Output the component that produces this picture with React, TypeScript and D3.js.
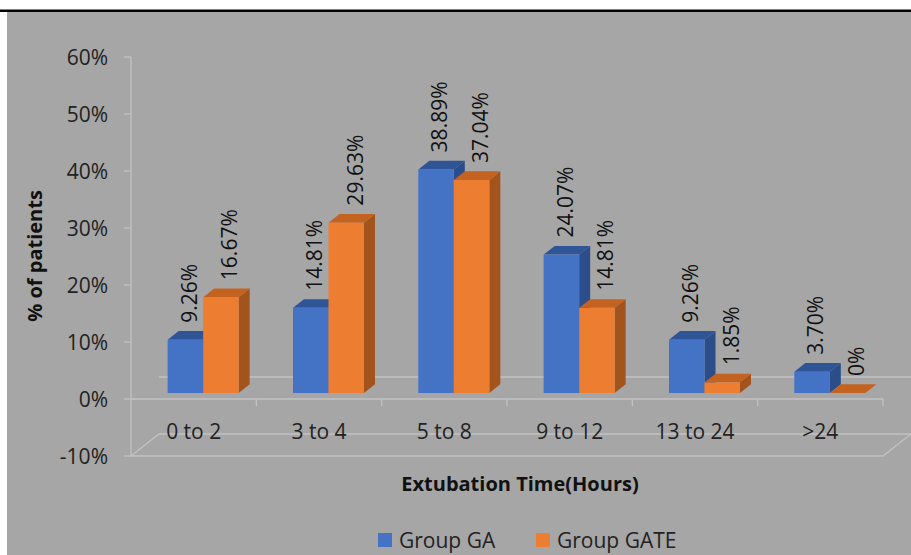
import React from "react";
import * as d3 from "d3";

// Extubation time distribution, two patient groups (percent of patients)
const categories = ["0 to 2", "3 to 4", "5 to 8", "9 to 12", "13 to 24", ">24"];
const groupGA = [9.26, 14.81, 38.89, 24.07, 9.26, 3.7];
const groupGATE = [16.67, 29.63, 37.04, 14.81, 1.85, 0];
const seriesNames = ["Group GA", "Group GATE"];
const yTicks = [-10, 0, 10, 20, 30, 40, 50, 60];

const W = 911;
const H = 555;
const FONT = "'Open Sans', sans-serif";
const LINE = "#c2c2c2";

// face colours: front, top, side
const palettes = [
  { front: "#4472c4", top: "#2f5597", side: "#2b4d8a" },
  { front: "#ed7d31", top: "#c4621f", side: "#a3541c" },
];

// depth vectors of the pseudo-3D plot box and of each column
const wallDepth = { dx: 28, dy: -22 };
const barDepth = { dx: 11, dy: -8.7 };

const fmt = (v: number) => (v === 0 ? "0%" : `${v.toFixed(2)}%`);

export default function App() {
  const x = d3.scaleBand<string>().domain(categories).range([131, 883]);
  const yAxis = d3.scaleLinear().domain([-10, 60]).range([456, 57]);
  const yBar = d3.scaleLinear().domain([0, 60]).range([393, 48]);

  const barW = 35.5;
  const groupShift = 9.5;
  const series = [groupGA, groupGATE];

  const left = x.range()[0];
  const right = x.range()[1];
  const y0 = yAxis(0);
  const yMin = yAxis(-10);

  const bars: React.ReactNode[] = [];
  const labels: React.ReactNode[] = [];
  categories.forEach((c, i) => {
    const cx = (x(c) as number) + x.bandwidth() / 2;
    series.forEach((vals, s) => {
      const v = vals[i];
      const x0 = cx + groupShift - barW + s * barW;
      const x1 = x0 + barW;
      const yb = yBar(0);
      const yt = yBar(v);
      const { dx, dy } = barDepth;
      const p = palettes[s];
      const side = `M${x1},${yb}L${x1 + dx},${yb + dy}L${x1 + dx},${yt + dy}L${x1},${yt}Z`;
      const top = `M${x0},${yt}L${x0 + dx},${yt + dy}L${x1 + dx},${yt + dy}L${x1},${yt}Z`;
      bars.push(
        <g key={`b-${i}-${s}`}>
          <path d={side} fill={p.side} />
          <path d={top} fill={p.top} />
          {v > 0 && <rect x={x0} y={yt} width={barW} height={yb - yt} fill={p.front} />}
        </g>
      );
      const lx = (x0 + x1) / 2 + (s === 0 ? 4 : 9);
      const ly = yt - 17;
      labels.push(
        <text
          key={`l-${i}-${s}`}
          transform={`translate(${lx},${ly}) rotate(-90)`}
          dy="0.35em"
          fontSize={21}
          fill="#111"
          fontFamily={FONT}
        >
          {fmt(v)}
        </text>
      );
    });
  });

  const boundaries = categories.map((c) => (x(c) as number) + x.bandwidth());

  return (
    <svg
      width={W}
      height={H}
      style={{ position: "absolute", left: 0, top: 0, display: "block" }}
    >
      <rect x={0} y={0} width={W} height={H} fill="#fff" />
      <rect x={7} y={12} width={W - 7} height={H - 12} fill="#a6a6a6" />
      <rect x={0} y={9.5} width={W} height={2.5} fill="#000" />

      {/* back edge of the zero plane */}
      <line
        x1={left + wallDepth.dx}
        x2={right + wallDepth.dx}
        y1={y0 + wallDepth.dy}
        y2={y0 + wallDepth.dy}
        stroke={LINE}
        strokeWidth={1.3}
      />

      {/* floor outline at the axis minimum */}
      <path
        d={`M${left},${yMin}L${right},${yMin}L${right + wallDepth.dx},${yMin + wallDepth.dy}L${left + wallDepth.dx},${yMin + wallDepth.dy}Z`}
        fill="none"
        stroke={LINE}
        strokeWidth={1.3}
      />

      {/* value axis */}
      <line x1={left} x2={left} y1={yAxis(60)} y2={yMin} stroke={LINE} strokeWidth={1.3} />
      {yTicks.map((t) => (
        <g key={`t-${t}`}>
          <line x1={left - 7} x2={left} y1={yAxis(t)} y2={yAxis(t)} stroke={LINE} strokeWidth={1.3} />
          <text
            x={108}
            y={yAxis(t)}
            dy="0.36em"
            textAnchor="end"
            fontSize={21}
            fill="#222"
            fontFamily={FONT}
          >
            {`${t}%`}
          </text>
        </g>
      ))}

      {/* category axis */}
      <line x1={left} x2={right} y1={y0} y2={y0} stroke={LINE} strokeWidth={1.3} />
      {boundaries.map((b, i) => (
        <line key={`ct-${i}`} x1={b} x2={b} y1={y0} y2={y0 + 7} stroke={LINE} strokeWidth={1.3} />
      ))}
      {categories.map((c) => (
        <text
          key={`c-${c}`}
          x={(x(c) as number) + x.bandwidth() / 2}
          y={439}
          textAnchor="middle"
          fontSize={21}
          fill="#222"
          fontFamily={FONT}
        >
          {c}
        </text>
      ))}

      {bars}
      {labels}

      {/* axis titles */}
      <text
        x={520}
        y={491}
        textAnchor="middle"
        fontSize={20}
        fontWeight="bold"
        fill="#111"
        fontFamily={FONT}
      >
        Extubation Time(Hours)
      </text>
      <text
        transform="translate(42,256) rotate(-90)"
        textAnchor="middle"
        fontSize={20}
        fontWeight="bold"
        fill="#111"
        fontFamily={FONT}
      >
        % of patients
      </text>

      {/* legend */}
      {seriesNames.map((n, i) => {
        const lx = i === 0 ? 378 : 536;
        return (
          <g key={`lg-${n}`}>
            <rect x={lx} y={533} width={14} height={14} fill={palettes[i].front} />
            <text x={lx + 21} y={540} dy="0.36em" fontSize={21} fill="#222" fontFamily={FONT}>
              {n}
            </text>
          </g>
        );
      })}
    </svg>
  );
}
